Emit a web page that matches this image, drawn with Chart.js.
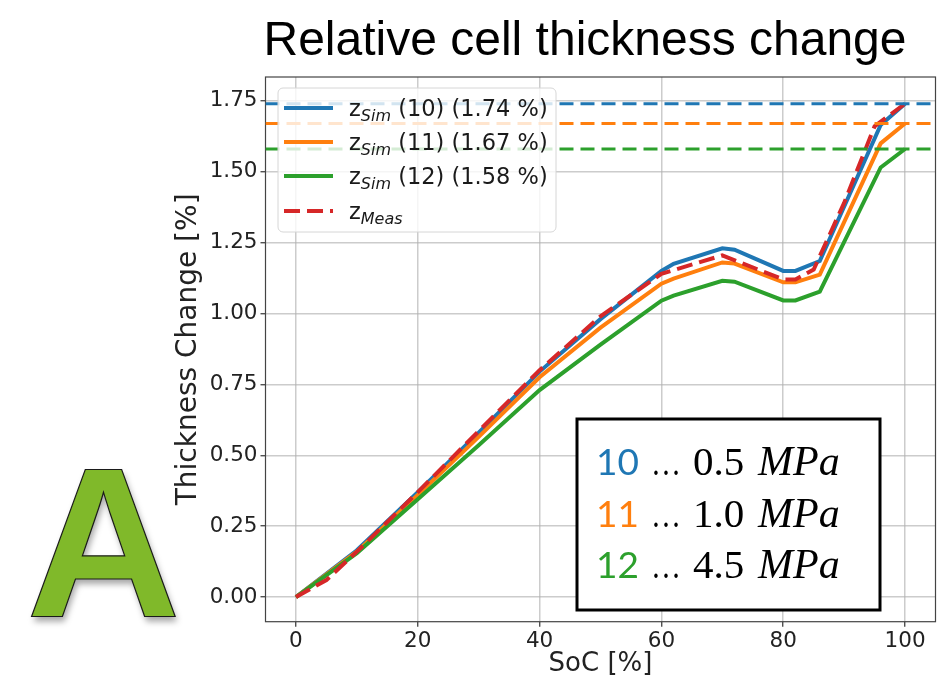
<!DOCTYPE html>
<html>
<head>
<meta charset="utf-8">
<script src="https://cdn.jsdelivr.net/npm/chart.js@4.4.0/dist/chart.umd.min.js"></script>
<style>
html, body { margin: 0; padding: 0; background: #fff; }
#wrap { width: 943px; height: 686px; }
</style>
</head>
<body>
<div id="wrap"><canvas id="thickness_chart" width="943" height="686"></canvas></div>
<script>
// simulated thickness change, SoC points
const soc_sim = [0, 10, 20, 30, 40, 50, 60, 62, 70, 72, 80, 82, 86, 96, 100];
const sim_10 = [0, 0.165, 0.37, 0.58, 0.795, 0.98, 1.15, 1.175, 1.23, 1.225, 1.15, 1.15, 1.185, 1.665, 1.74];
const sim_11 = [0, 0.16, 0.36, 0.565, 0.775, 0.95, 1.105, 1.123, 1.18, 1.176, 1.11, 1.11, 1.137, 1.60, 1.67];
const sim_12 = [0, 0.155, 0.345, 0.535, 0.73, 0.89, 1.045, 1.063, 1.115, 1.112, 1.046, 1.046, 1.077, 1.515, 1.58];

// measured
const soc_meas = [0, 5, 10, 20, 30, 40, 50, 60, 70, 80, 82, 85, 90, 95, 100];
const meas = [0, 0.06, 0.16, 0.37, 0.585, 0.80, 0.99, 1.14, 1.205, 1.12, 1.12, 1.155, 1.39, 1.66, 1.74];

// final values (dashed reference lines)
const final_values = [1.74, 1.67, 1.58];

const sim_ids = ['10', '11', '12'];
const pressures = ['0.5', '1.0', '4.5'];
const x_ticks = [0, 20, 40, 60, 80, 100];
const y_ticks = [0, 0.25, 0.5, 0.75, 1.0, 1.25, 1.5, 1.75];

const C_BLUE = '#1f77b4';
const C_ORANGE = '#ff7f0e';
const C_GREEN = '#2ca02c';
const C_RED = '#d62728';
const X_MIN = -5, X_MAX = 105;

function toPoints(xs, ys){
    return xs.map((x, i) => ({x: x, y: ys[i]}));
}

function hline(value){
    return [{x: X_MIN, y: value}, {x: X_MAX, y: value}];
}

const decorPlugin = {
    id: 'decor',
    beforeDatasetsDraw(chart){
        const a = chart.chartArea;
        const ctx = chart.ctx;
        ctx.save();
        ctx.strokeStyle = '#444';
        ctx.lineWidth = 1.2;
        ctx.strokeRect(a.left, a.top, a.right - a.left, a.bottom - a.top);
        ctx.restore();
    },
    afterDatasetsDraw(chart){
        drawLegend(chart.ctx);
    },
    afterDraw(chart){
        const ctx = chart.ctx;
        drawTitle(ctx);
        drawPressureBox(ctx);
        drawLetter(ctx);
    }
};

function drawTitle(ctx){
    ctx.save();
    ctx.fillStyle = '#000';
    ctx.font = '48px "Liberation Sans", Arial, sans-serif';
    ctx.textAlign = 'center';
    ctx.textBaseline = 'alphabetic';
    ctx.fillText('Relative cell thickness change', 585, 55);
    ctx.restore();
}

function drawLegend(ctx){
    const bx = 278, by = 88, bw = 278, bh = 144, r = 5;
    ctx.save();
    ctx.beginPath();
    ctx.moveTo(bx + r, by);
    ctx.arcTo(bx + bw, by, bx + bw, by + bh, r);
    ctx.arcTo(bx + bw, by + bh, bx, by + bh, r);
    ctx.arcTo(bx, by + bh, bx, by, r);
    ctx.arcTo(bx, by, bx + bw, by, r);
    ctx.closePath();
    ctx.fillStyle = 'rgba(255,255,255,0.8)';
    ctx.fill();
    ctx.strokeStyle = '#d6d6d6';
    ctx.lineWidth = 1;
    ctx.stroke();

    const rows = [
        {color: C_BLUE, dash: [], sub: 'Sim', rest: ' (' + sim_ids[0] + ') (' + final_values[0].toFixed(2) + ' %)', y: 108},
        {color: C_ORANGE, dash: [], sub: 'Sim', rest: ' (' + sim_ids[1] + ') (' + final_values[1].toFixed(2) + ' %)', y: 142},
        {color: C_GREEN, dash: [], sub: 'Sim', rest: ' (' + sim_ids[2] + ') (' + final_values[2].toFixed(2) + ' %)', y: 176},
        {color: C_RED, dash: [16, 7], sub: 'Meas', rest: '', y: 211}
    ];
    rows.forEach(function(row){
        ctx.beginPath();
        ctx.setLineDash(row.dash);
        ctx.strokeStyle = row.color;
        ctx.lineWidth = 4;
        ctx.moveTo(284, row.y);
        ctx.lineTo(333, row.y);
        ctx.stroke();
        ctx.setLineDash([]);

        let x = 349;
        const base = row.y + 8;
        ctx.fillStyle = '#1a1a1a';
        ctx.textAlign = 'left';
        ctx.textBaseline = 'alphabetic';
        ctx.font = '22.5px "DejaVu Sans", sans-serif';
        ctx.fillText('z', x, base);
        x += ctx.measureText('z').width;
        ctx.font = 'italic 16px "DejaVu Sans", sans-serif';
        ctx.fillText(row.sub, x, base + 5);
        x += ctx.measureText(row.sub).width;
        ctx.font = '22.5px "DejaVu Sans", sans-serif';
        ctx.fillText(row.rest, x, base);
    });
    ctx.restore();
}

function drawPressureBox(ctx){
    ctx.save();
    ctx.fillStyle = '#fff';
    ctx.fillRect(577, 419, 303, 191);
    ctx.strokeStyle = '#000';
    ctx.lineWidth = 3;
    ctx.strokeRect(577, 419, 303, 191);

    const colors = [C_BLUE, C_ORANGE, C_GREEN];
    const bases = [475, 527, 578];
    ctx.textBaseline = 'alphabetic';
    ctx.textAlign = 'left';
    for(let i = 0; i < 3; i++){
        ctx.fillStyle = colors[i];
        ctx.font = '37px Lato, "Open Sans", sans-serif';
        ctx.fillText(sim_ids[i], 596, bases[i], 43);
        ctx.fillStyle = '#000';
        ctx.font = '38px "Liberation Serif", "DejaVu Serif", serif';
        ctx.fillText('\u2026', 651, bases[i], 30);
        ctx.font = '41px "Liberation Serif", "DejaVu Serif", serif';
        ctx.fillText(pressures[i], 693, bases[i], 53);
        ctx.font = 'italic 42px "Liberation Serif", "DejaVu Serif", serif';
        ctx.fillText('MPa', 758, bases[i], 90);
    }
    ctx.restore();
}

function drawLetter(ctx){
    ctx.save();
    ctx.font = 'bold 214px "Liberation Sans", Arial, sans-serif';
    ctx.textAlign = 'center';
    ctx.textBaseline = 'alphabetic';
    ctx.shadowColor = 'rgba(0,0,0,0.35)';
    ctx.shadowBlur = 6;
    ctx.shadowOffsetX = 2;
    ctx.shadowOffsetY = 5;
    ctx.fillStyle = '#80b92a';
    ctx.fillText('A', 103.5, 617);
    ctx.shadowColor = 'transparent';
    ctx.lineWidth = 1.2;
    ctx.strokeStyle = '#1a1a1a';
    ctx.strokeText('A', 103.5, 617);
    ctx.restore();
}

function initThicknessChart(){
    const ctx = document.getElementById('thickness_chart').getContext('2d');
    const lineBase = {borderWidth: 4, pointRadius: 0, fill: false, tension: 0};
    var chart = new Chart(ctx, {
        type: 'line',
        data: {
            datasets: [
                Object.assign({label: 'ref 10', data: hline(final_values[0]), borderColor: C_BLUE, borderDash: [14, 7], order: 0}, lineBase, {borderWidth: 3}),
                Object.assign({label: 'ref 11', data: hline(final_values[1]), borderColor: C_ORANGE, borderDash: [14, 7], order: 0}, lineBase, {borderWidth: 3}),
                Object.assign({label: 'ref 12', data: hline(final_values[2]), borderColor: C_GREEN, borderDash: [14, 7], order: 0}, lineBase, {borderWidth: 3}),
                Object.assign({label: 'zMeas', data: toPoints(soc_meas, meas), borderColor: C_RED, borderDash: [16, 7], order: 1}, lineBase),
                Object.assign({label: 'zSim 12', data: toPoints(soc_sim, sim_12), borderColor: C_GREEN, order: 2}, lineBase),
                Object.assign({label: 'zSim 11', data: toPoints(soc_sim, sim_11), borderColor: C_ORANGE, order: 3}, lineBase),
                Object.assign({label: 'zSim 10', data: toPoints(soc_sim, sim_10), borderColor: C_BLUE, order: 4}, lineBase)
            ]
        },
        options: {
            responsive: false,
            animation: false,
            layout: {padding: {top: 77, right: 7.5, left: 0, bottom: 0}},
            plugins: {
                legend: {display: false},
                tooltip: {enabled: false}
            },
            scales: {
                x: {
                    type: 'linear',
                    min: X_MIN,
                    max: X_MAX,
                    afterBuildTicks(scale){ scale.ticks = x_ticks.map(v => ({value: v})); },
                    afterFit(scale){ scale.height = 64.3; },
                    grid: {color: 'rgba(176,176,176,0.65)', lineWidth: 1.5, tickLength: 5, tickColor: '#333', tickWidth: 1.2},
                    border: {display: false},
                    ticks: {color: '#222', font: {family: '"DejaVu Sans"', size: 21.5}, padding: 2, maxRotation: 0,
                        callback: v => String(v)},
                    title: {display: true, text: 'SoC [%]', color: '#222', font: {family: '"DejaVu Sans"', size: 26}, padding: {top: 0, bottom: 6}}
                },
                y: {
                    type: 'linear',
                    min: -0.087,
                    max: 1.834,
                    afterBuildTicks(scale){ scale.ticks = y_ticks.map(v => ({value: v})); },
                    afterFit(scale){ scale.width = 265.5; },
                    grid: {color: 'rgba(176,176,176,0.65)', lineWidth: 1.5, tickLength: 5, tickColor: '#333', tickWidth: 1.2},
                    border: {display: false},
                    ticks: {color: '#222', font: {family: '"DejaVu Sans"', size: 21.5}, padding: 3,
                        callback: v => Number(v).toFixed(2)},
                    title: {display: true, text: 'Thickness Change [%]', color: '#222', font: {family: '"DejaVu Sans"', size: 28}, padding: {top: 172, bottom: 0}}
                }
            }
        },
        plugins: [decorPlugin]
    });
}

initThicknessChart();
</script>
</body>
</html>
